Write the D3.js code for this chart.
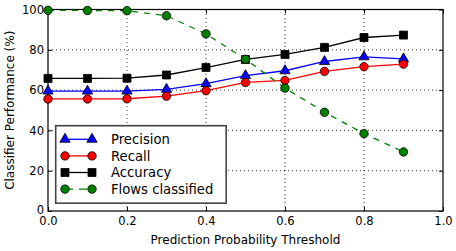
<!DOCTYPE html>
<html>
<head>
<meta charset="utf-8">
<script src="https://cdn.jsdelivr.net/npm/d3@7"></script>
<style>
  body { margin: 0; background: #fff; }
  svg { font-family: "DejaVu Sans", sans-serif; }
</style>
</head>
<body>
<svg id="chart" width="456" height="251"></svg>
<script>
// data
const thresholds = [0.0, 0.1, 0.2, 0.3, 0.4, 0.5, 0.6, 0.7, 0.8, 0.9]
const precision = [59.5, 59.5, 59.5, 60.4, 63.2, 67.2, 69.6, 74.2, 76.5, 75.5]
const recall = [55.6, 55.6, 55.7, 57.0, 59.7, 63.8, 64.8, 69.3, 71.6, 72.9]
const accuracy = [65.8, 65.8, 65.9, 67.5, 71.2, 75.2, 77.7, 81.2, 86.1, 87.3]
const flowsClassified = [99.6, 99.5, 99.4, 96.9, 87.9, 75.3, 61.0, 49.0, 38.4, 29.3]
const xTicks = [0.0, 0.2, 0.4, 0.6, 0.8, 1.0]
const yTicks = [0, 20, 40, 60, 80, 100]

const series = [
  { name: "Precision", values: precision, stroke: "#0000ff", fill: "#0000ff", marker: "triangle", dash: null },
  { name: "Recall", values: recall, stroke: "#ff0000", fill: "#ff0000", marker: "circle", dash: null },
  { name: "Accuracy", values: accuracy, stroke: "#000000", fill: "#000000", marker: "square", dash: null },
  { name: "Flows classified", values: flowsClassified, stroke: "#008000", fill: "#008000", marker: "circle", dash: "6,6" }
]

const margin = { left: 48, right: 13, top: 9.5, bottom: 40 }
const width = 456, height = 251
const svg = d3.select("#chart")

const x = d3.scaleLinear().domain([0, 1]).range([margin.left, width - margin.right])
const y = d3.scaleLinear().domain([0, 100]).range([height - margin.bottom, margin.top])

// grid
const grid = svg.append("g")
grid.selectAll("line.gx").data(xTicks.slice(1, -1)).join("line")
  .attr("x1", d => x(d)).attr("x2", d => x(d))
  .attr("y1", y(0)).attr("y2", y(100))
  .attr("stroke", "#000").attr("stroke-width", 0.8).attr("stroke-dasharray", "1,3")
grid.selectAll("line.gy").data(yTicks.slice(1, -1)).join("line")
  .attr("y1", d => y(d)).attr("y2", d => y(d))
  .attr("x1", x(0)).attr("x2", x(1))
  .attr("stroke", "#000").attr("stroke-width", 0.8).attr("stroke-dasharray", "1,3")

// axes, ticks pointing inwards
const axB = svg.append("g").attr("transform", "translate(0," + y(0) + ")")
  .call(d3.axisBottom(x).tickValues(xTicks).tickFormat(d3.format(".1f")).tickSizeInner(-4).tickSizeOuter(0).tickPadding(6))
const axL = svg.append("g").attr("transform", "translate(" + x(0) + ",0)")
  .call(d3.axisLeft(y).tickValues(yTicks).tickSizeInner(-4).tickSizeOuter(0).tickPadding(4))
const axT = svg.append("g").attr("transform", "translate(0," + y(100) + ")")
  .call(d3.axisTop(x).tickValues(xTicks).tickFormat("").tickSizeInner(-4).tickSizeOuter(0))
const axR = svg.append("g").attr("transform", "translate(" + x(1) + ",0)")
  .call(d3.axisRight(y).tickValues(yTicks).tickFormat("").tickSizeInner(-4).tickSizeOuter(0))
for (const ax of [axB, axL, axT, axR]) {
  ax.select(".domain").remove()
  ax.selectAll("line").attr("stroke", "#000")
  ax.selectAll("text").attr("font-size", 11.5).attr("fill", "#000").attr("font-family", "DejaVu Sans")
}
// keep the "0" clear of "0.0"
axL.selectAll(".tick text").filter(d => d === 0).attr("dy", "0.2em")

svg.append("rect")
  .attr("x", x(0)).attr("y", y(100))
  .attr("width", x(1) - x(0)).attr("height", y(0) - y(100))
  .attr("fill", "none").attr("stroke", "#000").attr("stroke-width", 1.2)

const symbolFor = m => m === "triangle" ? d3.symbolTriangle : m === "square" ? d3.symbolSquare : d3.symbolCircle
const sizeFor = m => m === "triangle" ? 46 : m === "square" ? 64 : 56

const plot = svg.append("g")
for (const s of series) {
  const pts = thresholds.map((t, i) => [t, s.values[i]])
  plot.append("path")
    .datum(pts)
    .attr("d", d3.line().x(d => x(d[0])).y(d => y(d[1])))
    .attr("fill", "none").attr("stroke", s.stroke).attr("stroke-width", 1.3)
    .attr("stroke-dasharray", s.dash)
  plot.selectAll(null).data(pts).join("path")
    .attr("transform", d => "translate(" + x(d[0]) + "," + y(d[1]) + ")")
    .attr("d", d3.symbol().type(symbolFor(s.marker)).size(sizeFor(s.marker)))
    .attr("fill", s.fill).attr("stroke", "#000").attr("stroke-width", 0.8)
}

// legend
const legend = svg.append("g")
legend.append("rect")
  .attr("x", 55.7).attr("y", 125.7).attr("width", 170.5).attr("height", 77.5)
  .attr("fill", "#fff").attr("stroke", "#444").attr("stroke-width", 1.6)
series.forEach((s, i) => {
  const ly = 139.3 + i * 16.6
  legend.append("line")
    .attr("x1", 65).attr("x2", 92).attr("y1", ly).attr("y2", ly)
    .attr("stroke", s.stroke).attr("stroke-width", 1.3).attr("stroke-dasharray", s.dash ? "8,6" : null)
  for (const lx of [65, 92]) {
    legend.append("path")
      .attr("transform", "translate(" + lx + "," + ly + ")")
      .attr("d", d3.symbol().type(symbolFor(s.marker)).size(sizeFor(s.marker)))
      .attr("fill", s.fill).attr("stroke", "#000").attr("stroke-width", 0.8)
  }
  legend.append("text")
    .attr("x", 111).attr("y", ly).attr("dy", "0.36em")
    .attr("font-size", 13.2).attr("fill", "#000")
    .text(s.name)
})

// axis titles
svg.append("text")
  .attr("x", x(0.5)).attr("y", 243.5)
  .attr("text-anchor", "middle").attr("font-size", 12)
  .text("Prediction Probability Threshold")
svg.append("text")
  .attr("transform", "translate(14," + y(50) + ")rotate(-90)")
  .attr("text-anchor", "middle").attr("font-size", 12)
  .text("Classifier Performance (%)")
</script>
</body>
</html>
